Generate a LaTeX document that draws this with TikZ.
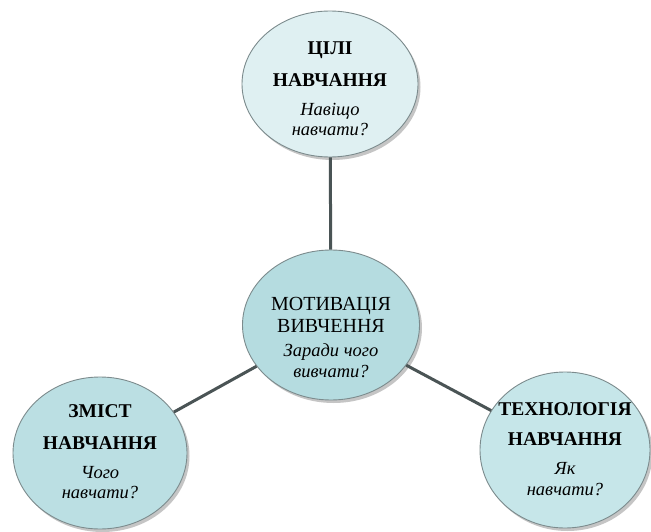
\documentclass[tikz,border=0pt]{standalone}
\usepackage{fontspec}
\setmainfont{Liberation Serif}
\usetikzlibrary{shapes.geometric,shadows}
\definecolor{topfill}{HTML}{DFF0F2}
\definecolor{midfill}{HTML}{B5DCE0}
\definecolor{leftfill}{HTML}{BBDFE3}
\definecolor{rightfill}{HTML}{C6E6E9}
\definecolor{rim}{HTML}{7C8B8D}
\definecolor{link}{HTML}{4A5455}
\tikzset{
  bubble/.style={ellipse, draw=rim, line width=0.9pt, inner sep=0pt,
    drop shadow={shadow xshift=2.5pt, shadow yshift=-3pt, fill=black!45, opacity=0.5}},
  connector/.style={draw=link, line width=3pt},
  head/.style={anchor=base, font=\fontsize{19.5}{21}\selectfont\bfseries, inner sep=0pt},
  headreg/.style={anchor=base, font=\fontsize{20}{22}\selectfont, inner sep=0pt},
  ask/.style={anchor=base, font=\fontsize{18.5}{20}\selectfont\itshape, inner sep=0pt}
}
\begin{document}
\begin{tikzpicture}[x=1pt,y=-1pt]
\useasboundingbox[fill=white] (0,0) rectangle (651,532);
\node[bubble, fill=topfill, minimum width=176pt, minimum height=146pt] (top) at (330,84) {};
\node[bubble, fill=midfill, minimum width=177pt, minimum height=150pt] (mid) at (331,325) {};
\node[bubble, fill=leftfill, minimum width=174pt, minimum height=152pt] (left) at (100,453) {};
\node[bubble, fill=rightfill, minimum width=170pt, minimum height=156pt] (right) at (565,450) {};
\draw[connector] (mid) -- (top);
\draw[connector] (mid) -- (left);
\draw[connector] (mid) -- (right);
% top texts
\node[head] (t1) at (330,55) {ЦІЛІ};
\node[head] (t2) at (330,87) {НАВЧАННЯ};
\node[ask] (t3) at (330,116) {Навіщо};
\node[ask] (t4) at (330,136) {навчати?};
% center texts
\node[headreg] (m1) at (331,310) {МОТИВАЦІЯ};
\node[headreg] (m2) at (331,332) {ВИВЧЕННЯ};
\node[ask] (m3) at (331,356) {Заради чого};
\node[ask] (m4) at (331,377) {вивчати?};
% left texts
\node[head] (l1) at (100,417) {ЗМІСТ};
\node[head] (l2) at (100,449) {НАВЧАННЯ};
\node[ask] (l3) at (100,478) {Чого};
\node[ask] (l4) at (100,498) {навчати?};
% right texts
\node[head] (r1) at (565,415) {ТЕХНОЛОГІЯ};
\node[head] (r2) at (565,445) {НАВЧАННЯ};
\node[ask] (r3) at (565,474) {Як};
\node[ask] (r4) at (565,495) {навчати?};
\end{tikzpicture}
\end{document}
